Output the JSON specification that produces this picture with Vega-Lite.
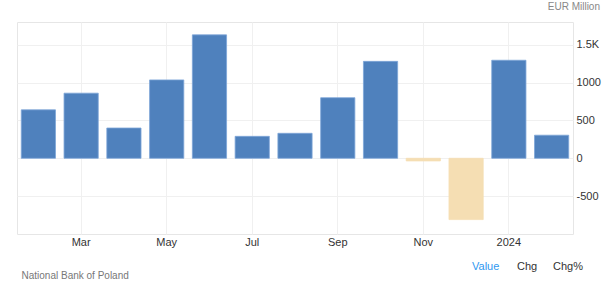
{
  "$schema": "https://vega.github.io/schema/vega-lite/v6.json",
  "width": 556,
  "height": 212,
  "autosize": {"type": "none"},
  "padding": {"left": 17, "top": 22, "right": 32, "bottom": 53},
  "background": "#ffffff",
  "config": {
    "font": "Liberation Sans",
    "view": {"stroke": "#e6e6e6", "strokeWidth": 1}
  },
  "title": {
    "text": "EUR Million",
    "anchor": "end",
    "frame": "group",
    "dx": 27,
    "offset": 10,
    "fontSize": 10,
    "fontWeight": "normal",
    "color": "#888888"
  },
  "datasets": {
    "balance": [
      {"month": "2023-02", "value": 640},
      {"month": "2023-03", "value": 860},
      {"month": "2023-04", "value": 400},
      {"month": "2023-05", "value": 1035},
      {"month": "2023-06", "value": 1630},
      {"month": "2023-07", "value": 290},
      {"month": "2023-08", "value": 330},
      {"month": "2023-09", "value": 800},
      {"month": "2023-10", "value": 1280},
      {"month": "2023-11", "value": -35},
      {"month": "2023-12", "value": -810},
      {"month": "2024-01", "value": 1295},
      {"month": "2024-02", "value": 305}
    ],
    "activeTab": [
      {"active": "Value"}
    ],
    "otherTabs": [
      {"other": "Chg"},
      {"other": "Chg%"}
    ]
  },
  "layer": [
    {
      "data": {"name": "balance"},
      "mark": {"type": "bar", "strokeWidth": 0.8},
      "encoding": {
        "x": {
          "field": "month",
          "type": "ordinal",
          "sort": null,
          "scale": {"paddingInner": 0.2, "paddingOuter": 0.1},
          "axis": {
            "values": ["2023-03", "2023-05", "2023-07", "2023-09", "2023-11", "2024-01"],
            "labelExpr": "datum.value == '2024-01' ? '2024' : utcFormat(toDate(datum.value + '-15'), '%b')",
            "labelAngle": 0,
            "labelFontSize": 11,
            "labelColor": "#333333",
            "labelPadding": 2,
            "ticks": false,
            "domain": false,
            "grid": true,
            "gridColor": "#f0f0f0",
            "title": "National Bank of Poland",
            "titleFontSize": 10,
            "titleFontWeight": "normal",
            "titleColor": "#777777",
            "titleAnchor": "start",
            "titleAlign": "left",
            "titleBaseline": "alphabetic",
            "titleX": 4,
            "titleY": 44
          }
        },
        "y": {
          "field": "value",
          "type": "quantitative",
          "scale": {"domain": [-1000, 1800], "nice": false, "zero": false},
          "axis": {
            "orient": "right",
            "values": [-500, 0, 500, 1000, 1500],
            "labelExpr": "datum.value === 1500 ? '1.5K' : '' + datum.value",
            "labelFontSize": 11,
            "labelColor": "#333333",
            "labelPadding": 3,
            "labelBaseline": "middle",
            "ticks": false,
            "domain": false,
            "grid": true,
            "gridColor": "#f0f0f0",
            "title": null
          }
        },
        "color": {
          "condition": {"test": "datum.value < 0", "value": "#f5deb3"},
          "value": "#4f81bd"
        },
        "stroke": {
          "condition": {"test": "datum.value < 0", "value": "#f5deb3"},
          "value": "#7ea6d8"
        }
      }
    },
    {
      "data": {"name": "activeTab"},
      "mark": {"type": "point", "opacity": 0},
      "encoding": {
        "color": {
          "field": "active",
          "type": "nominal",
          "scale": {"domain": ["Value"], "range": ["#2f98f0"]},
          "legend": {
            "title": null,
            "orient": "none",
            "direction": "horizontal",
            "legendX": 440,
            "legendY": 239,
            "symbolOpacity": 0,
            "symbolSize": 0,
            "symbolStrokeWidth": 0,
            "labelFontSize": 11,
            "labelOffset": 4,
            "labelColor": "#2f98f0"
          }
        }
      }
    },
    {
      "data": {"name": "otherTabs"},
      "mark": {"type": "point", "opacity": 0},
      "encoding": {
        "shape": {
          "field": "other",
          "type": "nominal",
          "scale": {"domain": ["Chg", "Chg%"]},
          "legend": {
            "title": null,
            "orient": "none",
            "direction": "horizontal",
            "legendX": 485,
            "legendY": 239,
            "symbolOpacity": 0,
            "symbolSize": 0,
            "symbolStrokeWidth": 0,
            "labelFontSize": 11,
            "labelOffset": 4,
            "labelColor": "#333333",
            "columnPadding": 0
          }
        }
      }
    }
  ]
}
